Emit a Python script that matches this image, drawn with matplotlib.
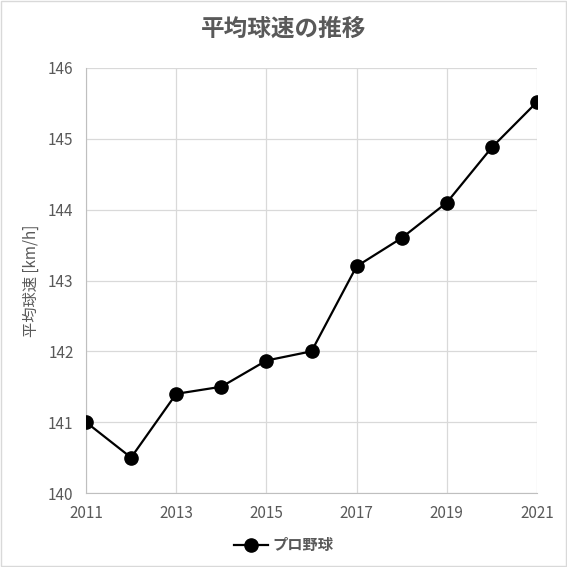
import matplotlib.pyplot as plt
from matplotlib.patches import Rectangle

plt.rcParams['font.family'] = ['Noto Sans CJK JP', 'DejaVu Sans']

years = [2011, 2012, 2013, 2014, 2015, 2016, 2017, 2018, 2019, 2020, 2021]
speeds = [141.0, 140.5, 141.4, 141.5, 141.87, 142.0, 143.2, 143.6, 144.1, 144.88, 145.52]
series_name = "プロ野球"
title = "平均球速の推移"
ylabel = "平均球速 [km/h]"

text_col = '#595959'
grid_col = '#d9d9d9'

fig = plt.figure(figsize=(5.67, 5.67), dpi=100)
ax = fig.add_axes([86/567, 1 - 493/567, (537-86)/567, (493-68)/567])

ax.plot(years, speeds, color='black', lw=1.6, marker='o', ms=9.5, label=series_name, zorder=3)

ax.set_xlim(2011, 2021)
ax.set_ylim(140, 146)
ax.set_xticks(range(2011, 2022, 2))
ax.set_yticks(range(140, 147))
ax.grid(True, color=grid_col, lw=0.9)
ax.set_axisbelow(True)
for s in ['top', 'right']:
    ax.spines[s].set_visible(False)
for s in ['left', 'bottom']:
    ax.spines[s].set_color('#bfbfbf')
ax.tick_params(length=0, colors=text_col, labelsize=11, pad=9)

ax.set_ylabel(ylabel, color=text_col, fontsize=11, labelpad=6)
fig.text(0.5, 1 - 29/567, title, ha='center', va='center', fontsize=17, fontweight='bold', color=text_col)

fig.legend(loc='center', bbox_to_anchor=(0.5, 1 - 545/567), frameon=False,
           prop={'size': 11, 'weight': 'bold'}, labelcolor=text_col,
           handlelength=2.2, handletextpad=0.3)

fig.patches.append(Rectangle((0.002, 0.002), 0.996, 0.996, transform=fig.transFigure,
                             fill=False, edgecolor=grid_col, lw=1))

fig.savefig('out.png', dpi=100)
